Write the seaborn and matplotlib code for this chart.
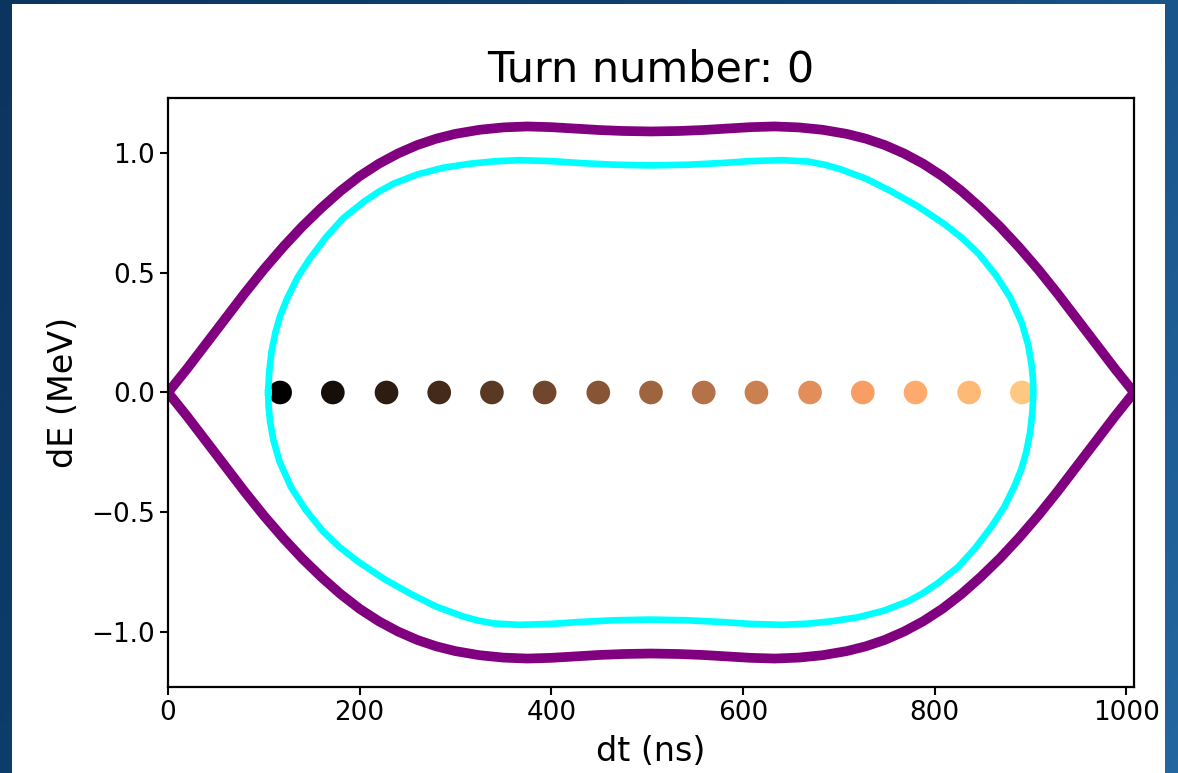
import numpy as np
import pandas as pd
import matplotlib
matplotlib.use("Agg")
import matplotlib.pyplot as plt
from matplotlib.patches import Rectangle
from matplotlib.colors import LinearSegmentedColormap
import seaborn as sns

# Separatrix (upper branch), dt in ns, dE in MeV; lower branch mirrors it in dE
sep_dt = [0, 20, 40, 60, 80, 100, 120, 140, 160, 180, 200, 220, 240, 260, 280,
          300, 325, 350, 375, 400, 425, 450, 475, 504, 533, 558, 583, 608, 633,
          658, 683, 708, 728, 748, 768, 788, 808, 828, 848, 868, 888, 908, 928,
          948, 968, 988, 1008]
sep_dE = [0.0, 0.10, 0.205, 0.31, 0.415, 0.515, 0.608, 0.694, 0.772, 0.843,
          0.905, 0.957, 1.0, 1.035, 1.062, 1.082, 1.099, 1.109, 1.113, 1.110,
          1.104, 1.098, 1.094, 1.092, 1.094, 1.098, 1.104, 1.110, 1.113, 1.109,
          1.099, 1.082, 1.062, 1.035, 1.0, 0.957, 0.905, 0.843, 0.772, 0.694,
          0.608, 0.515, 0.415, 0.31, 0.205, 0.10, 0.0]

# Inner contour, upper branch from left to right
ctr_dt = [104.5, 105.5, 108, 112, 117, 124, 135, 148, 165, 183, 205, 220, 235,
          260, 287, 315, 340, 367, 400, 430, 465, 504, 543, 578, 608, 641, 668,
          685, 701, 728, 754, 782, 810, 829, 846, 864, 879, 891, 897.5, 901,
          902.5, 903]
ctr_dE = [0.0, 0.08, 0.17, 0.25, 0.32, 0.39, 0.48, 0.56, 0.65, 0.73, 0.80,
          0.84, 0.873, 0.912, 0.94, 0.957, 0.967, 0.972, 0.968, 0.96, 0.953,
          0.95, 0.953, 0.96, 0.968, 0.972, 0.966, 0.953, 0.935, 0.895, 0.843,
          0.78, 0.705, 0.645, 0.58, 0.49, 0.397, 0.29, 0.2, 0.12, 0.06, 0.0]
# centre of the contour in dt; lower branch is the point reflection of the upper
ctr_centre = 503.75

# Macro-particles at turn 0
bunch_dt = [117, 172, 228, 283, 338, 393, 449, 504, 559, 614, 670, 725, 780, 836, 891]
bunch_dE = [0.0] * len(bunch_dt)

turn = 0

sep = pd.DataFrame({
    "dt": sep_dt + sep_dt,
    "dE": sep_dE + [-v for v in sep_dE],
    "branch": ["upper"] * len(sep_dt) + ["lower"] * len(sep_dt),
})
ctr = pd.DataFrame({
    "dt": ctr_dt + [2 * ctr_centre - t for t in ctr_dt],
    "dE": ctr_dE + [-v for v in ctr_dE],
})
bunch = pd.DataFrame({"dt": bunch_dt, "dE": bunch_dE})

fig = plt.figure(figsize=(11.78, 7.73), dpi=100)

# Backdrop: blue gradient with a white sheet on top
bg = fig.add_axes([0, 0, 1, 1], zorder=-10)
bg_cmap = LinearSegmentedColormap.from_list("bg", ["#0a355e", "#0f4475", "#2466a0"])
gx, gy = np.meshgrid(np.linspace(0, 1, 200), np.linspace(0, 1, 200))
bg.imshow(0.75 * gx + 0.25 * (1 - gy), cmap=bg_cmap, extent=[0, 1, 0, 1],
          aspect="auto", origin="lower")
bg.add_patch(Rectangle((12 / 1178, 0), (1165 - 12) / 1178, (773 - 4) / 773,
                       facecolor="white", edgecolor="none", transform=bg.transAxes))
bg.set_axis_off()

ax = fig.add_axes([168 / 1178, 1 - 687 / 773, (1134 - 168) / 1178, (687 - 98) / 773])
ax.set_facecolor("white")

sns.scatterplot(data=bunch, x="dt", y="dE", hue="dt", palette="copper",
                s=290, linewidth=0, legend=False, ax=ax, zorder=1)
sns.lineplot(data=sep, x="dt", y="dE", units="branch", estimator=None,
             sort=False, color="purple", linewidth=7, ax=ax, zorder=2,
             solid_joinstyle="round")
sns.lineplot(data=ctr, x="dt", y="dE", estimator=None, sort=False,
             color="cyan", linewidth=4.8, ax=ax, zorder=3,
             solid_joinstyle="round")

ax.set_xlim(0, 1008)
ax.set_ylim(-1.232, 1.232)
ax.set_xticks([0, 200, 400, 600, 800, 1000])
ax.set_yticks([-1.0, -0.5, 0.0, 0.5, 1.0])
ax.tick_params(labelsize=18.9, length=6, width=1.5, direction="out")
for sp in ax.spines.values():
    sp.set_linewidth(1.6)
    sp.set_color("black")

ax.set_xlabel("dt (ns)", fontsize=24, labelpad=6)
ax.set_ylabel("dE (MeV)", fontsize=24, labelpad=8)
ax.set_title(f"Turn number: {turn}", fontsize=31, pad=12)

fig.savefig("out.png", dpi=100)
